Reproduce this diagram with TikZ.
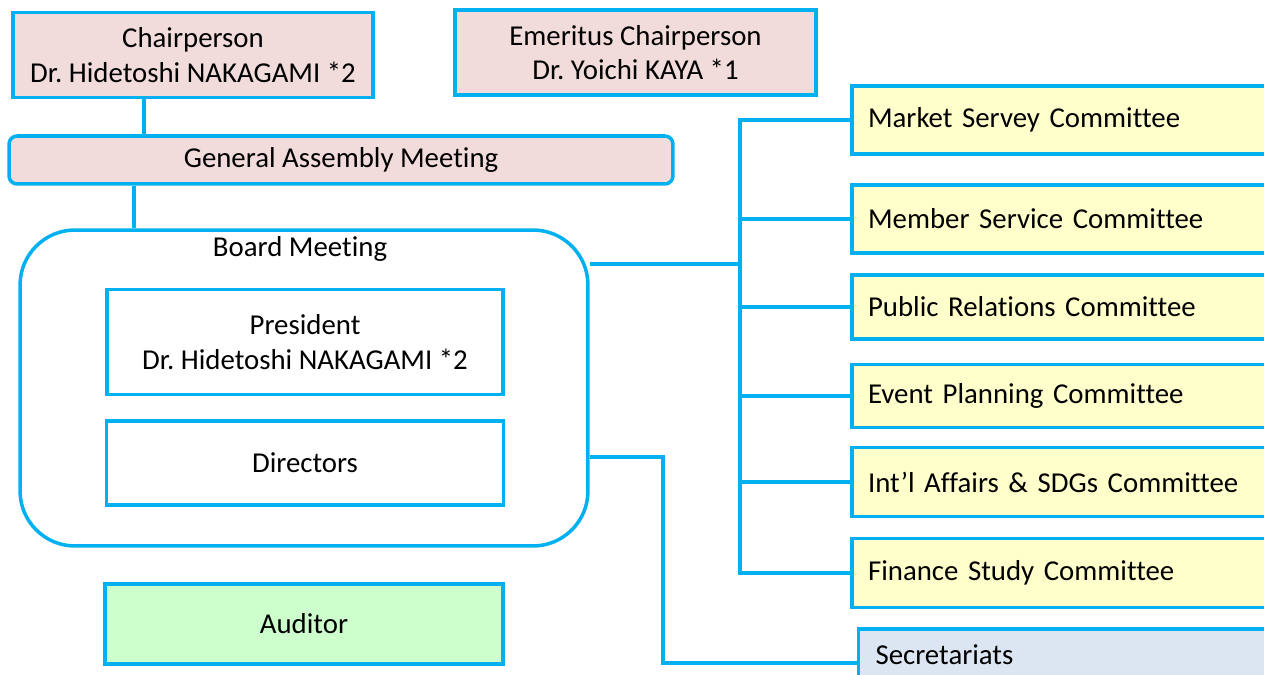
\documentclass[tikz,border=0pt]{standalone}
\usepackage{fontspec}
\setmainfont{Carlito}[Ligatures = NoCommon]
\frenchspacing
\definecolor{linecyan}{HTML}{00B0F0}
\definecolor{pinkfill}{HTML}{F2DCDB}
\definecolor{yellowfill}{HTML}{FFFFCC}
\definecolor{greenfill}{HTML}{CCFFCC}
\definecolor{bluefill}{HTML}{DCE6F2}
\tikzset{
    orgbox/.style = {draw = linecyan, line width = 2pt, align = center, inner sep = 0pt, font = \fontsize{16.4}{19.5}\selectfont},
    combox/.style = {orgbox, fill = yellowfill, text width = 8.12cm, inner xsep = 0.32cm, align = left},
    link/.style = {draw = linecyan, line width = 2pt}
}
\begin{document}
\begin{tikzpicture}[x = 0.02cm, y = -0.02cm]
        \useasboundingbox (0,0) rectangle (1264,675);
        \clip (0,0) rectangle (1264,675);
        % top boxes
        \node[orgbox, fill = pinkfill, minimum width = 7.2cm, minimum height = 1.7cm] (chair) at (193,55) {Chairperson\\Dr. Hidetoshi NAKAGAMI *2};
        \node[orgbox, fill = pinkfill, minimum width = 7.22cm, minimum height = 1.7cm] (emeritus) at (635.5,52.5) {Emeritus Chairperson\\Dr. Yoichi KAYA *1};
        \node[orgbox, fill = pinkfill, rounded corners = 0.16cm, minimum width = 13.28cm, minimum height = 0.96cm] (assembly) at (341,160) {General Assembly Meeting};
        % board
        \node[orgbox, rounded corners = 1.1cm, minimum width = 11.36cm, minimum height = 6.32cm] (board) at (304,388) {};
        \node[font = \fontsize{16.4}{19.5}\selectfont] (boardtitle) at (300,249) {Board Meeting};
        \node[orgbox, minimum width = 7.92cm, minimum height = 2.1cm] (president) at (305,342) {President\\Dr. Hidetoshi NAKAGAMI *2};
        \node[orgbox, minimum width = 7.94cm, minimum height = 1.68cm] (directors) at (305,463) {Directors};
        \node[orgbox, fill = greenfill, minimum width = 7.96cm, minimum height = 1.6cm] (auditor) at (304,624) {Auditor};
        % committees
        \node[combox, minimum height = 1.36cm] (market) at (1071,120) {Market Servey Committee};
        \node[combox, minimum height = 1.36cm] (member) at (1071,219) {Member Service Committee};
        \node[combox, minimum height = 1.28cm] (public) at (1071,307) {Public Relations Committee};
        \node[combox, minimum height = 1.26cm] (event) at (1071,396) {Event Planning Committee};
        \node[combox, minimum height = 1.38cm] (intl) at (1071,482) {Int'l Affairs \& SDGs Committee};
        \node[combox, minimum height = 1.38cm] (finance) at (1071,573) {Finance Study Committee};
        \node[orgbox, fill = bluefill, text width = 7.82cm, inner xsep = 0.34cm, align = left, minimum height = 1.04cm] (secretariat) at (1071,655) {Secretariats};
        % connectors
        \coordinate (chairx) at (144,0);
        \coordinate (assemblyx) at (134,0);
        \coordinate (trunk) at (740,264);
        \coordinate (bend) at (663,457);
        \draw[link] (chair.south -| chairx) -- (assembly.north -| chairx);
        \draw[link] (assembly.south -| assemblyx) -- (board.north -| assemblyx);
        \draw[link] (board.east |- trunk) -- (trunk);
        \draw[link, line cap = rect] (market.west) -| (finance.west -| trunk) -- (finance.west);
        \foreach \c in {member, public, event, intl}
            \draw[link] (\c.west -| trunk) -- (\c.west);
        \draw[link] (board.east |- bend) -- (bend) |- ([yshift = -0.16cm]secretariat.west);
    \end{tikzpicture}
\end{document}
